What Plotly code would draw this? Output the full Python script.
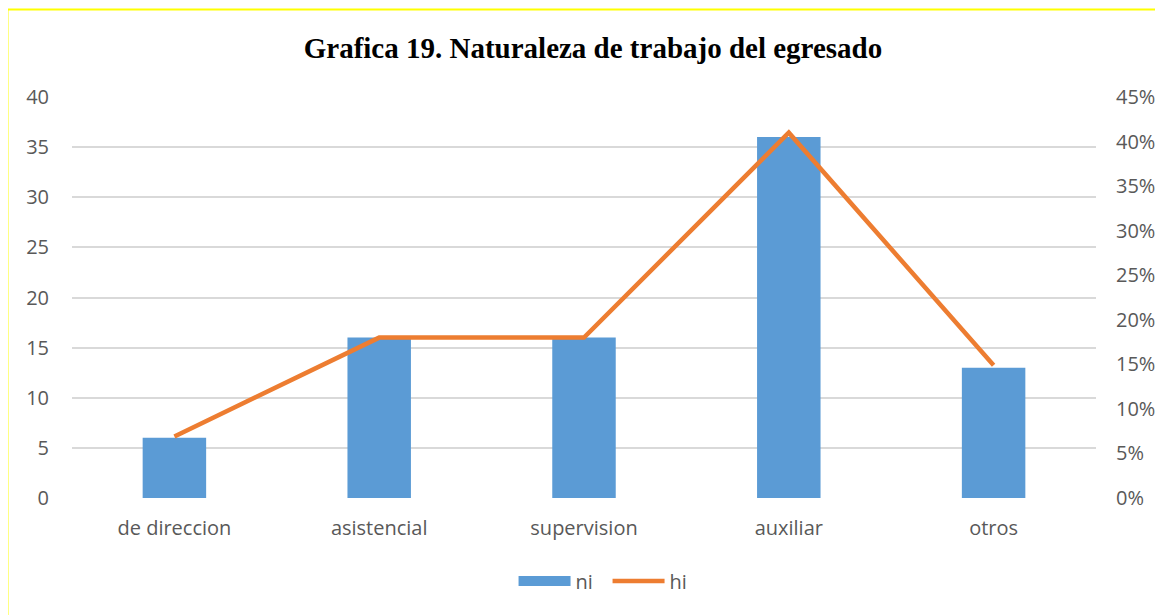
import plotly.graph_objects as go

categories = ["de direccion", "asistencial", "supervision", "auxiliar", "otros"]
ni = [6, 16, 16, 36, 13]
hi = [0.069, 0.18, 0.18, 0.41, 0.149]
left_ticks = [0, 5, 10, 15, 20, 25, 30, 35, 40]
right_ticks = [0, 0.05, 0.10, 0.15, 0.20, 0.25, 0.30, 0.35, 0.40, 0.45]

font_fam = "'Open Sans', sans-serif"
gray = "#595959"
blue = "#5B9BD5"
orange = "#ED7D31"

fig = go.Figure()
fig.add_trace(go.Bar(x=categories, y=ni, name="ni", marker_color=blue,
                     marker_line_width=0, yaxis="y", showlegend=False))
# legend proxy so the "ni" key shows as a wide rectangle
fig.add_trace(go.Scatter(x=[categories[0]], y=[None], name="ni", mode="lines",
                         line=dict(color=blue, width=12), yaxis="y",
                         hoverinfo="skip"))
fig.add_trace(go.Scatter(x=categories, y=hi, name="hi", mode="lines",
                         line=dict(color=orange, width=4.5), yaxis="y2"))

fig.update_layout(
    width=1163, height=615,
    margin=dict(l=64, r=75, t=89, b=125, autoexpand=False),
    paper_bgcolor="white", plot_bgcolor="white",
    bargap=0.69,
    title=dict(text="<b>Grafica 19. Naturaleza de trabajo del egresado</b>",
               x=0.503, xanchor="center", y=0.935, yanchor="middle",
               font=dict(family="'Liberation Serif', 'Times New Roman', serif",
                         size=29, color="black")),
    xaxis=dict(showgrid=False, showline=False, ticks="", ticklabelstandoff=16,
               tickfont=dict(family=font_fam, size=20, color=gray)),
    yaxis=dict(range=[0, 40], tickvals=left_ticks, showgrid=True,
               gridcolor="#D9D9D9", gridwidth=1.5, zeroline=False,
               showline=False, ticks="", ticklabelstandoff=22,
               tickfont=dict(family=font_fam, size=20, color=gray)),
    yaxis2=dict(range=[0, 0.45], tickvals=right_ticks, tickformat=".0%",
                overlaying="y", side="right", showgrid=False, zeroline=False,
                showline=False, ticks="", ticklabelstandoff=19,
                tickfont=dict(family=font_fam, size=20, color=gray)),
    legend=dict(orientation="h", x=0.523, xanchor="center", y=-0.207,
                yanchor="middle", font=dict(family=font_fam, size=20, color=gray),
                itemwidth=52, entrywidth=27, entrywidthmode="pixels",
                tracegroupgap=0),
    shapes=[dict(type="rect", xref="paper", yref="paper",
                 x0=-0.063, x1=1.09, y0=-0.35, y1=1.218,
                 line=dict(color="#FFFF00", width=2), layer="below")],
)

fig.write_html("out.html")
